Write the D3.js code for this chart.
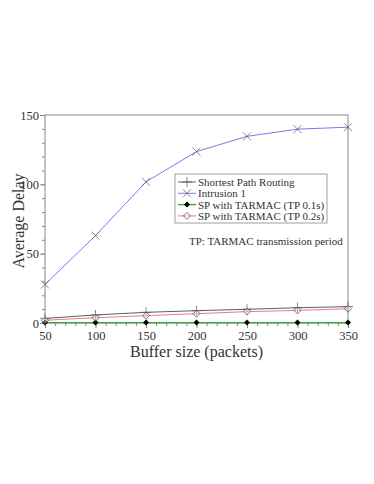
<!DOCTYPE html>
<html>
<head>
<meta charset="utf-8">
<script src="https://cdn.jsdelivr.net/npm/d3@7"></script>
<style>
  body { margin: 0; background: #fff; }
  svg, svg text { font-family: "Liberation Serif", "DejaVu Serif", serif; }
</style>
</head>
<body>
<div id="chart"></div>
<script>
// buffer sizes (x) and the four series
const bufferSizes = [50, 100, 150, 200, 250, 300, 350];
const shortestPath = [3.3, 5.8, 7.7, 8.9, 9.9, 11.0, 11.8];
const intrusion1 = [27.8, 63, 101.8, 123.6, 134.6, 139.8, 141.2];
const tarmac01 = [0.3, 0.3, 0.3, 0.3, 0.3, 0.3, 0.3];
const tarmac02 = [2.0, 3.8, 5.3, 6.7, 8.2, 9.1, 10.3];
const seriesNames = ["Shortest Path Routing", "Intrusion 1", "SP with TARMAC (TP 0.1s)", "SP with TARMAC (TP 0.2s)"];
const xTicks = [50, 100, 150, 200, 250, 300, 350];
const yTicks = [0, 50, 100, 150];

const W = 374, H = 484;
const margin = {left: 45, top: 115, right: 26, bottom: 161};

const svg = d3.select("#chart").append("svg")
  .attr("width", W).attr("height", H);

const x = d3.scaleLinear().domain([50, 350]).range([margin.left, W - margin.right]);
const y = d3.scaleLinear().domain([0, 150]).range([H - margin.bottom, margin.top]);

// frame
svg.append("rect")
  .attr("x", x(50)).attr("y", y(150))
  .attr("width", x(350) - x(50)).attr("height", y(0) - y(150))
  .attr("fill", "none").attr("stroke", "#888").attr("stroke-width", 1);

// minor ticks
const xAxisMinor = d3.axisBottom(x).tickValues(d3.range(50, 351, 10)).tickSize(3).tickFormat("");
const yAxisMinor = d3.axisLeft(y).tickValues(d3.range(0, 151, 10)).tickSize(3).tickFormat("");
svg.append("g").attr("transform", `translate(0,${y(0)})`).call(xAxisMinor);
svg.append("g").attr("transform", `translate(${x(50)},0)`).call(yAxisMinor);

// major ticks + labels
svg.append("g").attr("transform", `translate(0,${y(0)})`)
  .call(d3.axisBottom(x).tickValues(xTicks).tickSize(5).tickPadding(3));
svg.append("g").attr("transform", `translate(${x(50)},0)`)
  .call(d3.axisLeft(y).tickValues(yTicks).tickSize(5).tickPadding(1));

svg.selectAll("g").attr("font-family", null).attr("font-size", null);
svg.selectAll(".domain").remove();
svg.selectAll(".tick line").attr("stroke", "#888");
svg.selectAll(".tick text")
  .style("font-family", "'Liberation Serif', serif")
  .attr("font-size", 12.5).attr("fill", "#333");

// axis titles
svg.append("text")
  .attr("x", (x(50) + x(350)) / 2).attr("y", 357)
  .attr("text-anchor", "middle").attr("font-size", 16).attr("fill", "#333")
  .text("Buffer size (packets)");
svg.append("text")
  .attr("transform", `translate(24,${(y(0) + y(150)) / 2 + 2}) rotate(-90)`)
  .attr("text-anchor", "middle").attr("font-size", 16).attr("fill", "#333")
  .text("Average Delay");

const line = d3.line().x((d, i) => x(bufferSizes[i])).y(d => y(d));

const series = [
  {vals: shortestPath, color: "#333", marker: "plus"},
  {vals: intrusion1, color: "#5555ee", marker: "cross"},
  {vals: tarmac01, color: "#33aa33", marker: "dot"},
  {vals: tarmac02, color: "#ee5555", marker: "diamond"}
];

function drawMarker(g, type, cx, cy) {
  if (type === "plus") {
    g.append("path").attr("d", `M${cx - 5},${cy}H${cx + 5}M${cx},${cy - 5}V${cy + 5}`)
      .attr("stroke", "#555").attr("stroke-width", 0.7);
  } else if (type === "cross") {
    g.append("path").attr("d", `M${cx - 4},${cy - 4}L${cx + 4},${cy + 4}M${cx - 4},${cy + 4}L${cx + 4},${cy - 4}`)
      .attr("stroke", "#555").attr("stroke-width", 0.7);
  } else if (type === "dot") {
    g.append("path").attr("d", `M${cx},${cy - 3}L${cx + 3},${cy}L${cx},${cy + 3}L${cx - 3},${cy}Z`)
      .attr("fill", "#000");
  } else {
    g.append("path").attr("d", `M${cx},${cy - 3.5}L${cx + 3.5},${cy}L${cx},${cy + 3.5}L${cx - 3.5},${cy}Z`)
      .attr("fill", "#fff").attr("fill-opacity", 0.4)
      .attr("stroke", "#555").attr("stroke-width", 0.8);
  }
}

series.forEach(s => {
  svg.append("path").datum(s.vals)
    .attr("d", line).attr("fill", "none")
    .attr("stroke", s.color).attr("stroke-width", s.marker === "dot" ? 1.4 : 0.8);
});
series.forEach(s => {
  const g = svg.append("g");
  s.vals.forEach((v, i) => drawMarker(g, s.marker, x(bufferSizes[i]), y(v)));
});

// legend
const lg = svg.append("g").attr("transform", "translate(175,174)");
lg.append("rect").attr("width", 152).attr("height", 49)
  .attr("fill", "#fff").attr("stroke", "#888").attr("stroke-width", 0.8);
seriesNames.forEach((name, i) => {
  const ry = 8 + i * 11.3;
  lg.append("line").attr("x1", 3).attr("x2", 21).attr("y1", ry).attr("y2", ry)
    .attr("stroke", series[i].color).attr("stroke-width", series[i].marker === "dot" ? 1.4 : 0.8);
  drawMarker(lg, series[i].marker, 12, ry);
  lg.append("text").attr("x", 23).attr("y", ry + 4)
    .attr("font-size", 11).attr("fill", "#333").text(name);
});

svg.append("text")
  .attr("x", 189).attr("y", 245)
  .attr("font-size", 11).attr("fill", "#333")
  .text("TP: TARMAC transmission period");
</script>
</body>
</html>
